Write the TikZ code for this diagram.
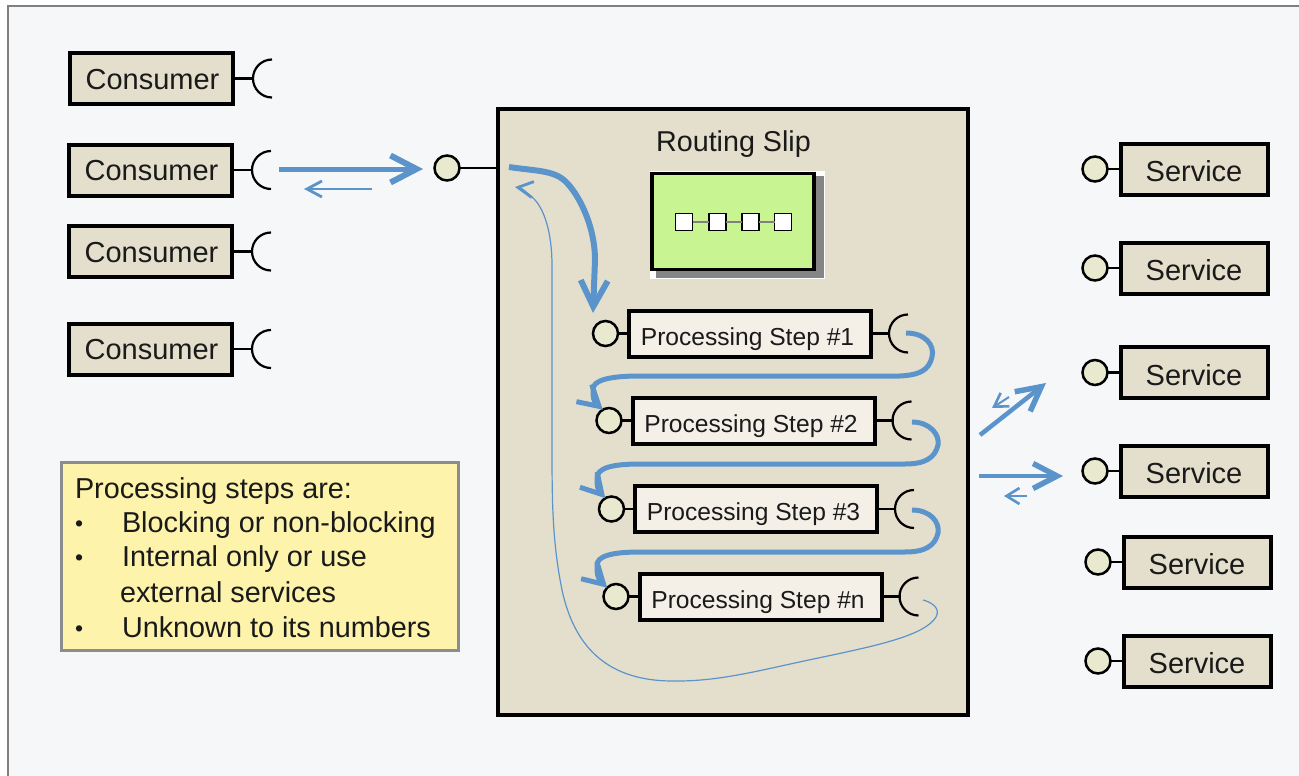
\documentclass[tikz,border=0pt]{standalone}
\usepackage{fontspec}
\setmainfont{Liberation Sans}
\usetikzlibrary{arrows.meta,positioning}

\definecolor{paper}{HTML}{F6F7F9}
\definecolor{khaki}{HTML}{E4DFCC}
\definecolor{cream}{HTML}{F4F0E8}
\definecolor{portfill}{HTML}{E8E9CF}
\definecolor{slipgreen}{HTML}{C9F492}
\definecolor{slipshadow}{HTML}{858585}
\definecolor{notefill}{HTML}{FDF3AB}
\definecolor{flowblue}{HTML}{5B93CB}
\definecolor{inkblack}{HTML}{1A1A1A}

\tikzset{
    part/.style={draw=black, line width=4pt, fill=khaki, inner sep=0pt, outer sep=0pt,
        text=inkblack, font=\fontsize{29}{34}\selectfont,
        text height=25pt, text depth=0pt},
    consumer/.style={part, minimum width=163pt, minimum height=51pt, text height=21.5pt},
    service/.style={part, minimum width=147pt, minimum height=51pt},
    stepbox/.style={part, fill=cream, minimum width=242pt, minimum height=46pt,
        font=\fontsize{24.6}{30}\selectfont, text height=24.5pt, text depth=1pt},
    port/.style={circle, draw=black, line width=2.5pt, fill=portfill, minimum size=25pt,
        inner sep=0pt, outer sep=0pt},
    wire/.style={draw=black, line width=2.2pt},
    cell/.style={draw=black, line width=1.6pt, fill=white, minimum size=17pt,
        inner sep=0pt, outer sep=0pt},
    flow/.style={draw=flowblue, line width=5pt,
        -{Straight Barb[length=26pt,width=27pt,line width=6pt]}},
    stepflow/.style={draw=flowblue, line width=5pt,
        -{Straight Barb[length=20pt,width=23pt,line width=5pt]}},
    sideflow/.style={draw=flowblue, line width=4.5pt,
        -{Straight Barb[length=24pt,width=25pt,line width=5.5pt]}},
    backflow/.style={draw=flowblue, line width=1.2pt,
        -{Straight Barb[length=15pt,width=16pt,line width=2.8pt]}},
    smallback/.style={draw=flowblue, line width=2pt,
        -{Straight Barb[length=13pt,width=16pt,line width=2.6pt]}},
    noteline/.style={inner sep=0pt, outer sep=0pt, anchor=base west, text=inkblack,
        font=\fontsize{28.8}{34}\selectfont},
    notedot/.style={noteline, font=\fontsize{23}{34}\selectfont},
}

\begin{document}
\begin{tikzpicture}[x=1pt,y=1pt]
    \useasboundingbox (0,0) rectangle (1299,-776);
    \fill[white] (0,0) rectangle (1299,-776);
    \fill[paper] (8,-6) rectangle (1299,-776);
    \draw[gray, line width=1.5pt] (8,-776) -- (8,-6) -- (1299,-6);

    %% consumers with their sockets
    \foreach \n/\x/\y in {1/151.5/-78.5, 2/150.5/-170, 3/150.5/-251.5, 4/150.5/-349} {
        \node[consumer] (c\n) at (\x,\y) {\hspace*{2pt}Consumer};
        \draw[wire] (c\n.east) -- ++(19.5,0) coordinate (ck\n);
        \draw[wire] (ck\n) ++(19.5,19) arc[start angle=90, end angle=270, radius=19];
    }

    %% services
    \foreach \n/\x/\y in {1/1194/-169, 2/1194/-268, 3/1194/-372.5, 4/1194/-471, 5/1197/-562, 6/1197/-661} {
        \node[service] (s\n) at (\x,\y) {Service};
        \node[port, left=13pt of s\n] (sp\n) {};
        \draw[wire] (sp\n) -- (s\n);
    }

    %% the routing slip
    \node[draw=black, line width=4pt, fill=khaki, minimum width=470pt, minimum height=606pt,
        inner sep=0pt, outer sep=0pt] (slip) at (732.5,-412) {};
    \node[port] (entry) at (447,-168) {};
    \draw[wire] (entry.east) -- (entry.east -| slip.west);
    \node[text=inkblack, font=\fontsize{28.7}{34}\selectfont]
        (sliptitle) at (733.5,-144) {Routing Slip};

    \fill[white] (650,-171) rectangle (825,-279);
    \fill[slipshadow] (656,-176) rectangle (823.5,-278);
    \node[draw=black, line width=3.5pt, fill=slipgreen, minimum width=162pt, minimum height=96pt,
        inner sep=0pt, outer sep=0pt] (router) at (733,-221.5) {};
    \foreach \n/\x in {1/684,2/717.5,3/750.5,4/783}
        \node[cell] (r\n) at (\x,-222) {};
    \draw[gray, line width=1.4pt] (r1) -- (r2);
    \draw[gray, line width=1.4pt] (r2) -- (r3);
    \draw[gray, line width=1.4pt] (r3) -- (r4);

    %% processing steps
    \foreach \n/\x/\y/\t in {1/750/-333.5/1, 2/753.5/-420.5/2, 3/756/-509/3, 4/760.5/-596.5/n} {
        \node[stepbox] (st\n) at (\x,\y) {\hspace*{-5pt}Processing Step \#\t};
        \node[port, left=11pt of st\n] (stp\n) {};
        \draw[wire] (stp\n) -- (st\n);
        \draw[wire] (st\n.east) -- ++(19,0) coordinate (sk\n);
        \draw[wire] (sk\n) ++(18,19) arc[start angle=90, end angle=270, radius=19];
    }

    %% note
    \node[draw=black!45, line width=3pt, fill=notefill, minimum width=397pt, minimum height=188pt,
        inner sep=0pt, outer sep=0pt] (note) at (260,-556.5) {};
    \node[noteline] (n0) at (75,-498) {Processing steps are:};
    \node[notedot] (b1) at (75,-531) {•};
    \node[noteline] (n1) at (122,-532) {Blocking or non-blocking};
    \node[notedot] (b2) at (75,-565) {•};
    \node[noteline] (n2) at (122,-566) {Internal only or use};
    \node[noteline] (n3) at (120,-602) {external services};
    \node[notedot] (b3) at (75,-636) {•};
    \node[noteline] (n4) at (122,-637) {Unknown to its numbers};

    %% message flow
    \coordinate (callstart) at (279,-169);
    \coordinate (callend) at (423,-169);
    \coordinate (replystart) at (372,-189);
    \coordinate (replyend) at (304,-189);
    \coordinate (slipin) at (509,-167);
    \coordinate (slipback) at (515,-187);
    \coordinate (out1) at (906,-333);
    \coordinate (out2) at (912,-422);
    \coordinate (out3) at (912,-510);
    \coordinate (out4) at (923,-600);

    \draw[flow] (callstart) -- (callend);
    \draw[backflow] (replystart) -- (replyend);

    \draw[flow, line width=6pt] (slipin) .. controls (535,-171) and (553,-170) .. (565,-181)
        .. controls (578,-193) and (595,-225) .. (595,-260) -- (593,-313);

    \draw[stepflow] (out1) .. controls (925,-333) and (935,-345) .. (932,-357)
        .. controls (929,-370) and (920,-375) .. (900,-376) -- (640,-376)
        .. controls (610,-376) and (592,-380) .. (593,-390)
        .. controls (593,-396) and (593,-401) .. (stp2.120);
    \draw[stepflow] (out2) .. controls (930,-422) and (940,-435) .. (938,-445)
        .. controls (935,-458) and (925,-464) .. (905,-464) -- (640,-464)
        .. controls (612,-464) and (596,-468) .. (597,-479)
        .. controls (597,-484) and (597,-489) .. (stp3.120);
    \draw[stepflow] (out3) .. controls (930,-510) and (940,-522) .. (938,-533)
        .. controls (935,-546) and (925,-552) .. (905,-552) -- (640,-552)
        .. controls (612,-552) and (596,-556) .. (597,-566)
        .. controls (597,-572) and (597,-578) .. (stp4.135);

    \draw[backflow] (out4) .. controls (931,-602) and (941,-608) .. (936,-617)
        .. controls (925,-635) and (880,-645) .. (823,-657)
        .. controls (760,-670) and (720,-682) .. (670,-681)
        .. controls (610,-680) and (575,-650) .. (562,-590)
        .. controls (552,-540) and (552,-500) .. (552,-440) -- (552,-265)
        .. controls (552,-235) and (545,-208) .. (532,-197)
        .. controls (526,-192) and (522,-188) .. (slipback);

    %% calls to the services
    \coordinate (call3start) at (980,-435);
    \coordinate (call3end) at (1046,-383);
    \coordinate (reply3start) at (1009,-397);
    \coordinate (reply3end) at (992,-408);
    \coordinate (call4start) at (979,-476);
    \coordinate (call4end) at (1063,-476);
    \coordinate (reply4start) at (1027,-496);
    \coordinate (reply4end) at (1004,-496);

    \draw[sideflow] (call3start) -- (call3end);
    \draw[smallback] (reply3start) -- (reply3end);
    \draw[sideflow] (call4start) -- (call4end);
    \draw[smallback] (reply4start) -- (reply4end);
\end{tikzpicture}
\end{document}
